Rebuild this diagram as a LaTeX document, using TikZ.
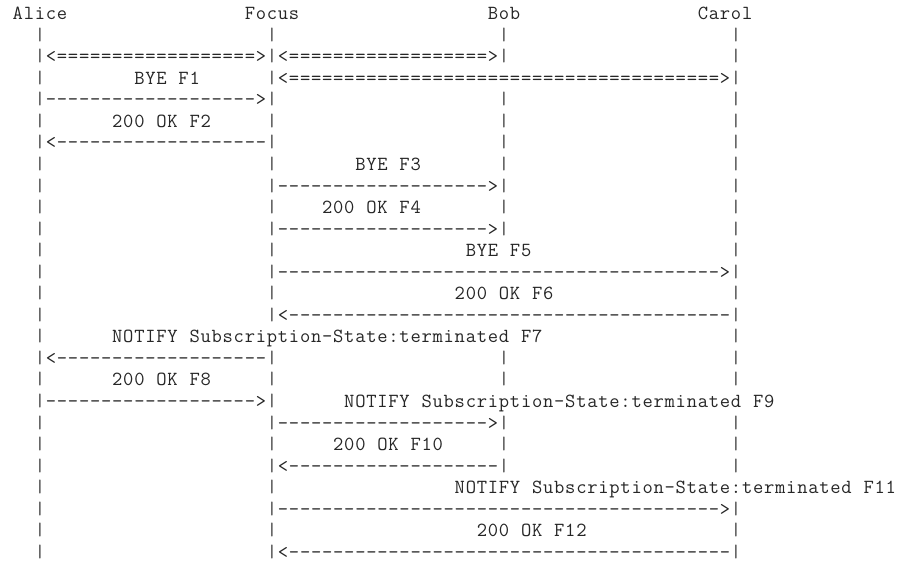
\documentclass[tikz,border=0pt]{standalone}
\usepackage{xparse}
\usepackage{graphicx}
\newlength\cw
\setlength\cw{11.05pt}
% lifeline bar: sits on the baseline, 14pt tall
\newcommand\vbar{\raisebox{-0.5pt}{\resizebox{!}{14pt}{\raisebox{\depth}{|}}}}
% set a string on a fixed character grid, one cell per character
\ExplSyntaxOn
\NewDocumentCommand\cells{m}{
  \str_map_inline:nn{#1}{
    \str_if_eq:nnTF{##1}{|}
      {\makebox[\cw][c]{\vbar}}
      {\makebox[\cw][c]{##1}}
  }
}
\ExplSyntaxOff
\tikzset{txt/.style={inner sep=0pt, outer sep=0pt, anchor=base west,
  text=black!85, font=\fontsize{20}{24}\selectfont\ttfamily}}
% \tok{name}{column}{row}{text}
\newcommand\tok[4]{\node[txt] (#1) at ({(1.3+11.05*#2)*1pt},{-(19.6+21.55*(#3-1))*1pt}) {\cells{#4}};}
\begin{document}
\begin{tikzpicture}
\fill[white] (0,0) rectangle (899pt,-563pt);
\useasboundingbox (0,0) rectangle (899pt,-563pt);
% participants
\tok{alice}{1}{1}{Alice}
\tok{focus}{22}{1}{Focus}
\tok{bob}{44}{1}{Bob}
\tok{carol}{63}{1}{Carol}
% row 2
\tok{a2}{3}{2}{|}\tok{f2}{24}{2}{|}\tok{b2}{45}{2}{|}\tok{c2}{66}{2}{|}
% row 3: media sessions
\tok{m3}{3}{3}{|<==================>|<==================>|}\tok{c3}{66}{3}{|}
% row 4
\tok{a4}{3}{4}{|}\tok{l4}{12}{4}{BYE F1}
\tok{m4}{24}{4}{|<=======================================>|}
% row 5
\tok{m5}{3}{5}{|------------------->|}\tok{b5}{45}{5}{|}\tok{c5}{66}{5}{|}
% row 6
\tok{a6}{3}{6}{|}\tok{l6}{10}{6}{200 OK F2}\tok{f6}{24}{6}{|}\tok{b6}{45}{6}{|}\tok{c6}{66}{6}{|}
% row 7
\tok{m7}{3}{7}{|<-------------------|}\tok{b7}{45}{7}{|}\tok{c7}{66}{7}{|}
% row 8
\tok{a8}{3}{8}{|}\tok{f8}{24}{8}{|}\tok{l8}{32}{8}{BYE F3}\tok{b8}{45}{8}{|}\tok{c8}{66}{8}{|}
% row 9
\tok{a9}{3}{9}{|}\tok{m9}{24}{9}{|------------------->|}\tok{c9}{66}{9}{|}
% row 10
\tok{a10}{3}{10}{|}\tok{f10}{24}{10}{|}\tok{l10}{29}{10}{200 OK F4}\tok{b10}{45}{10}{|}\tok{c10}{66}{10}{|}
% row 11
\tok{a11}{3}{11}{|}\tok{m11}{24}{11}{|------------------->|}\tok{c11}{66}{11}{|}
% row 12
\tok{a12}{3}{12}{|}\tok{f12}{24}{12}{|}\tok{l12}{42}{12}{BYE F5}\tok{c12}{66}{12}{|}
% row 13
\tok{a13}{3}{13}{|}\tok{m13}{24}{13}{|---------------------------------------->|}
% row 14
\tok{a14}{3}{14}{|}\tok{f14}{24}{14}{|}\tok{l14}{41}{14}{200 OK F6}\tok{c14}{66}{14}{|}
% row 15
\tok{a15}{3}{15}{|}\tok{m15}{24}{15}{|<----------------------------------------|}
% row 16
\tok{a16}{3}{16}{|}\tok{l16}{10}{16}{NOTIFY Subscription-State:terminated F7}\tok{c16}{66}{16}{|}
% row 17
\tok{m17}{3}{17}{|<-------------------|}\tok{b17}{45}{17}{|}\tok{c17}{66}{17}{|}
% row 18
\tok{a18}{3}{18}{|}\tok{l18}{10}{18}{200 OK F8}\tok{f18}{24}{18}{|}\tok{b18}{45}{18}{|}\tok{c18}{66}{18}{|}
% row 19
\tok{m19}{3}{19}{|------------------->|}\tok{l19}{31}{19}{NOTIFY Subscription-State:terminated F9}
% row 20
\tok{a20}{3}{20}{|}\tok{m20}{24}{20}{|------------------->|}\tok{c20}{66}{20}{|}
% row 21
\tok{a21}{3}{21}{|}\tok{f21}{24}{21}{|}\tok{l21}{30}{21}{200 OK F10}\tok{b21}{45}{21}{|}\tok{c21}{66}{21}{|}
% row 22
\tok{a22}{3}{22}{|}\tok{m22}{24}{22}{|<-------------------|}\tok{c22}{66}{22}{|}
% row 23
\tok{a23}{3}{23}{|}\tok{f23}{24}{23}{|}\tok{l23}{41}{23}{NOTIFY Subscription-State:terminated F11}
% row 24
\tok{a24}{3}{24}{|}\tok{m24}{24}{24}{|---------------------------------------->|}
% row 25
\tok{a25}{3}{25}{|}\tok{f25}{24}{25}{|}\tok{l25}{43}{25}{200 OK F12}\tok{c25}{66}{25}{|}
% row 26
\tok{a26}{3}{26}{|}\tok{m26}{24}{26}{|<----------------------------------------|}
\end{tikzpicture}
\end{document}
